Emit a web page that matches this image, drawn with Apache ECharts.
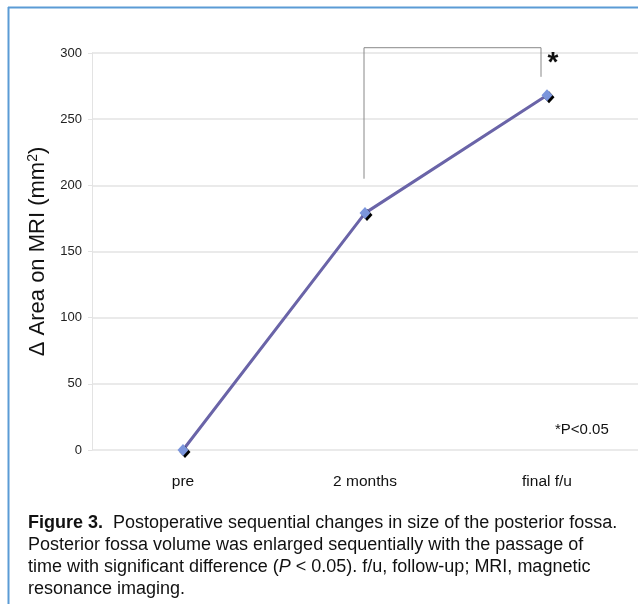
<!DOCTYPE html>
<html><head><meta charset="utf-8">
<script src="https://cdn.jsdelivr.net/npm/echarts@6/dist/echarts.min.js"></script>
<style>html,body{margin:0;padding:0;background:#fff}#c{width:638px;height:604px}</style>
</head><body><div id="c"></div>
<script>
const categories = ['pre', '2 months', 'final f/u'];
const areaValues = [0, 179, 268];
const yTicks = [0, 50, 100, 150, 200, 250, 300];
const bracketFrom = ['2 months', 205];
const bracketTop = 304;
const bracketTo = ['final f/u', 282];

const chart = echarts.init(document.getElementById('c'), null, {renderer: 'canvas'});
const font = 'Liberation Sans, Arial, sans-serif';
const option = {
  animation: false,
  backgroundColor: '#fff',
  grid: {left: 92, right: 0, top: 53, bottom: 154, containLabel: false},
  xAxis: {
    type: 'category', data: categories, boundaryGap: true,
    axisLine: {show: false}, axisTick: {show: false},
    axisLabel: {fontFamily: font, fontSize: 15.5, color: '#111', margin: 24}
  },
  yAxis: {
    type: 'value', min: yTicks[0], max: yTicks[yTicks.length - 1], interval: 50,
    name: '{a|Δ Area on MRI (mm}{s|2}{a|)}', nameLocation: 'middle', nameGap: 36,
    nameTextStyle: {rich: {
      a: {fontFamily: font, fontSize: 22, color: '#111'},
      s: {fontFamily: font, fontSize: 14, color: '#111', verticalAlign: 'top', padding: [0, 0, 10, 0]}
    }},
    axisLine: {show: true, lineStyle: {color: '#e3e3e3'}},
    axisTick: {show: true, length: 4, lineStyle: {color: '#e3e3e3'}},
    axisLabel: {fontFamily: font, fontSize: 13, color: '#222', margin: 10},
    splitLine: {lineStyle: {color: '#e3e3e3', width: 1.5}}
  },
  series: [{
    type: 'line', data: areaValues,
    lineStyle: {color: '#6a64a8', width: 3},
    symbol: 'diamond', symbolSize: [11, 12],
    itemStyle: {color: '#7b95dc', borderWidth: 0, shadowColor: '#000', shadowOffsetX: 2, shadowOffsetY: 2, shadowBlur: 0},
    z: 5
  }]
};
chart.setOption(option);

const p1 = chart.convertToPixel({seriesIndex: 0}, bracketFrom);
const p2 = chart.convertToPixel({seriesIndex: 0}, bracketTo);
const topY = chart.convertToPixel({yAxisIndex: 0}, bracketTop);

const capFont = '18px ' + font;
chart.setOption({
  graphic: [
    {type: 'line', shape: {x1: 8.5, y1: 7, x2: 8.5, y2: 604}, style: {stroke: '#5b9bd5', lineWidth: 2}, z: 100},
    {type: 'line', shape: {x1: 8, y1: 7.5, x2: 638, y2: 7.5}, style: {stroke: '#5b9bd5', lineWidth: 2}, z: 100},
    {type: 'polyline', shape: {points: [[p1[0] - 1, p1[1]], [p1[0] - 1, topY], [p2[0] - 6, topY], [p2[0] - 6, p2[1]]]},
      style: {stroke: '#888', lineWidth: 1, fill: null}, z: 50},
    {type: 'text', x: p2[0] + 6, y: topY + 16, style: {text: '*', font: 'bold 28px ' + font, fill: '#111', textAlign: 'center', textVerticalAlign: 'middle'}},
    {type: 'text', x: 555, y: 430, style: {text: '*P<0.05', font: '15px ' + font, fill: '#111', textVerticalAlign: 'middle'}},
    {type: 'text', x: 28, y: 512, style: {
      rich: {
        b: {font: 'bold ' + capFont, fill: '#111', lineHeight: 22},
        t: {font: capFont, fill: '#111', lineHeight: 22},
        i: {font: 'italic ' + capFont, fill: '#111', lineHeight: 22}
      },
      text: '{b|Figure 3.}{t|  Postoperative sequential changes in size of the posterior fossa.}\n{t|Posterior fossa volume was enlarged sequentially with the passage of}\n{t|time with significant difference (}{i|P}{t| < 0.05). f/u, follow-up; MRI, magnetic}\n{t|resonance imaging.}',
      lineHeight: 22
    }}
  ]
});
</script></body></html>
